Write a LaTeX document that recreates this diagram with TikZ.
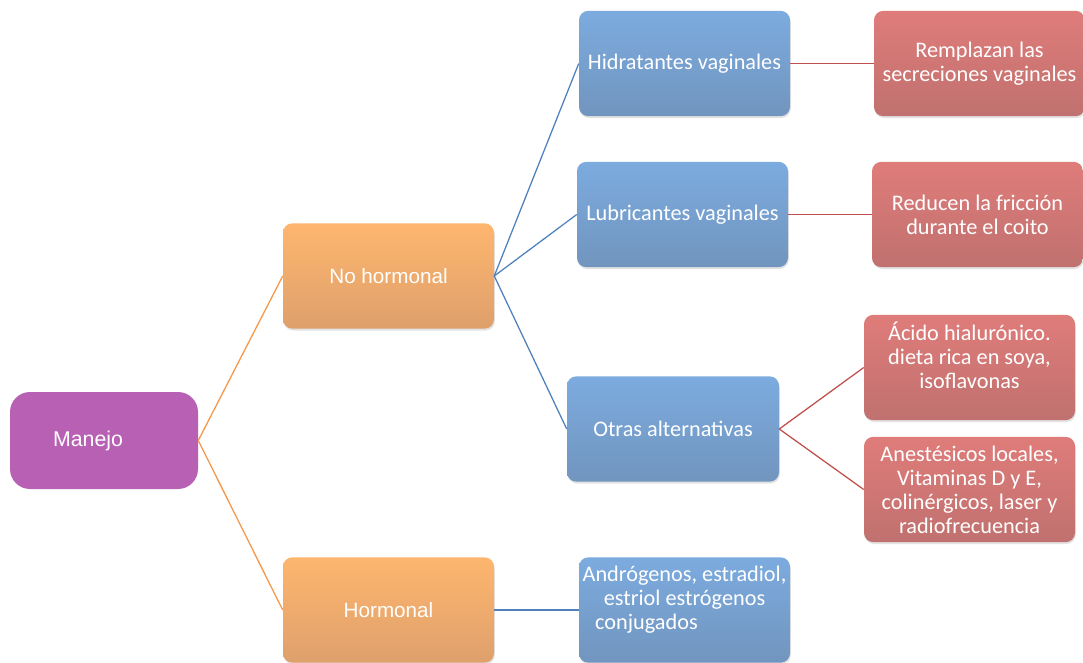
\documentclass[tikz,border=0pt]{standalone}
\usepackage{fontspec}
\setmainfont{Carlito}
\newfontfamily\arialf{Liberation Sans}
\usetikzlibrary{shadows}
\definecolor{bluetop}{RGB}{124,171,223}
\definecolor{bluebot}{RGB}{113,149,190}
\definecolor{orangetop}{RGB}{254,182,110}
\definecolor{orangebot}{RGB}{222,160,108}
\definecolor{redtop}{RGB}{223,124,122}
\definecolor{redbot}{RGB}{192,113,111}
\definecolor{purplef}{RGB}{184,96,180}
\definecolor{oline}{RGB}{247,150,70}
\definecolor{bline}{RGB}{79,129,189}
\definecolor{rline}{RGB}{192,80,77}
\tikzset{
  box/.style={rounded corners=7pt, minimum width=158.25pt, minimum height=79pt,
    inner sep=2pt, align=center, text=white,
    font=\fontsize{16.7}{18}\selectfont,
    drop shadow={opacity=0.22, shadow xshift=0.6pt, shadow yshift=-1.4pt}},
  bluebox/.style={box, top color=bluetop, bottom color=bluebot},
  orangebox/.style={box, top color=orangetop, bottom color=orangebot,
    font=\arialf\fontsize{15.5}{18}\selectfont},
  redbox/.style={box, top color=redtop, bottom color=redbot},
  purplebox/.style={rounded corners=15pt, minimum width=141pt, minimum height=72.75pt,
    inner sep=2pt, fill=purplef, text=white, font=\arialf\fontsize{16}{18}\selectfont},
  olink/.style={draw=oline, line width=0.95pt},
  blink/.style={draw=bline, line width=0.95pt},
  rlink/.style={draw=rline, line width=0.95pt},
}
\begin{document}
\begin{tikzpicture}[x=0.75pt, y=-0.75pt]
\useasboundingbox (0,0) rectangle (1083,663);
\fill[white] (0,0) rectangle (1083,663);

\node[purplebox] (manejo) at (104,440.5) {Manejo\hspace*{24pt}};
\node[orangebox] (noh) at (388.5,276) {No hormonal};
\node[orangebox] (hor) at (388.5,610) {Hormonal};

\node[bluebox] (hid) at (684.5,63.5) {Hidratantes vaginales};
\node[bluebox] (lub) at (682.5,214.5) {Lubricantes vaginales};
\node[bluebox, minimum width=159pt] (otr) at (673,429) {Otras alternativas};
\node[bluebox] (and) at (684.5,610) {Andrógenos, estradiol,\\ estriol estrógenos\\ conjugados\rule{57pt}{0pt}\\ \mbox{}};

\node[redbox] (rem) at (979.5,63.5) {Remplazan las\\ secreciones vaginales};
\node[redbox] (red) at (977.5,214.5) {Reducen la fricción\\ durante el coito};
\node[redbox] (aci) at (969.5,367.5) {Ácido hialurónico.\\ dieta rica en soya,\\ isoflavonas\\ \mbox{}};
\node[redbox] (ane) at (969.5,489.5) {Anestésicos locales,\\ Vitaminas D y E,\\ colinérgicos, laser y\\ radiofrecuencia};

\draw[olink] (manejo.east) -- (noh.west);
\draw[olink] (manejo.east) -- (hor.west);
\draw[blink] (noh.east) -- (hid.west);
\draw[blink] (noh.east) -- (lub.west);
\draw[blink] (noh.east) -- (otr.west);
\draw[blink] (hor.east) -- (and.west);
\draw[rlink] (hid.east) -- (rem.west);
\draw[rlink] (lub.east) -- (red.west);
\draw[rlink] (otr.east) -- (aci.west);
\draw[rlink] (otr.east) -- (ane.west);
\end{tikzpicture}
\end{document}
